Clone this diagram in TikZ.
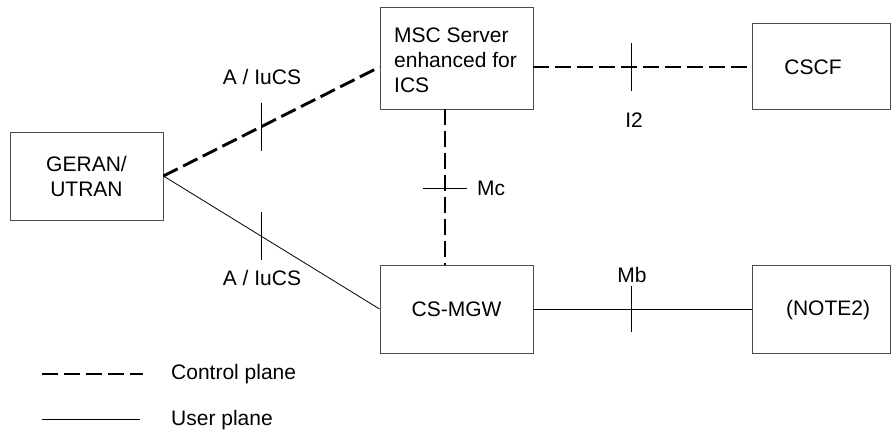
\documentclass[tikz,border=0pt]{standalone}
\usepackage{fontspec}
\setmainfont{Liberation Sans}
\usetikzlibrary{calc}
\begin{document}
\begin{tikzpicture}[x=1pt,y=-1pt,
  box/.style={draw=black!70,line width=0.9pt,rectangle,inner sep=0pt,font=\fontsize{21}{25}\selectfont},
  ctrl/.style={line width=2.9pt,dash pattern=on 16pt off 6pt},
  usr/.style={line width=0.8pt},
  tick/.style={line width=0.8pt},
  lbl/.style={inner sep=0pt,font=\fontsize{21}{25}\selectfont}]
\useasboundingbox (0,0) rectangle (891,432);
\node[box,minimum width=153pt,minimum height=88pt,align=center] (geran) at (86.5,176) {GERAN/\\UTRAN};
\node[box,minimum width=153pt,minimum height=102pt] (msc) at (456.5,58) {};
\node[lbl,anchor=west,align=left] (msct) at (394,60) {MSC Server\\enhanced for\\ICS};
\node[box,minimum width=138pt,minimum height=86pt] (cscf) at (821,66) {};
\node[lbl] (cscft) at (813,67) {CSCF};
\node[box,minimum width=153pt,minimum height=88pt] (mgw) at (456.5,309) {CS-MGW};
\node[box,minimum width=138pt,minimum height=88pt] (note) at (821,309) {};
\node[lbl] (notet) at (828,310) {(NOTE2)};
\coordinate (mscW) at ($(msc.west)+(0,9)$);
\coordinate (mscE) at ($(msc.east)+(0,9)$);
\coordinate (mscS) at ($(msc.south)+(-11.5,0)$);
\draw[ctrl] (geran.east) -- (mscW) coordinate[pos=0.452] (t1);
\draw[ctrl] (mscE) -- (cscf.west |- mscE) coordinate[pos=0.447] (t2);
\draw[ctrl] (mscS) -- (mgw.north -| mscS) coordinate[pos=0.506] (t3);
\draw[usr] (geran.east) -- (mgw.west) coordinate[pos=0.452] (t4);
\draw[usr] (mgw.east) -- (note.west) coordinate[pos=0.447] (t5);
\draw[tick] ($(t1)+(0,-24)$) -- ($(t1)+(0,24)$);
\draw[tick] ($(t2)+(0,-24)$) -- ($(t2)+(0,24)$);
\draw[tick] ($(t3)+(-22,0)$) -- ($(t3)+(22,0)$);
\draw[tick] ($(t4)+(0,-24)$) -- ($(t4)+(0,24)$);
\draw[tick] ($(t5)+(0,-23)$) -- ($(t5)+(0,23)$);
\node[lbl] (l1) at (262,77) {A / IuCS};
\node[lbl] (l2) at (634,120) {I2};
\node[lbl,anchor=west] (l3) at (477,188) {Mc};
\node[lbl] (l4) at (262,278) {A / IuCS};
\node[lbl] (l5) at (632,275) {Mb};
\coordinate (c1) at (42,374);
\coordinate (c2) at (143,374);
\coordinate (u1) at (42,419);
\coordinate (u2) at (140,419);
\draw[ctrl] (c1) -- (c2);
\draw[usr] (u1) -- (u2);
\node[lbl,anchor=west] (lc) at (171,374) {Control plane};
\node[lbl,anchor=west] (lu) at (171,420) {User plane};
\end{tikzpicture}
\end{document}
